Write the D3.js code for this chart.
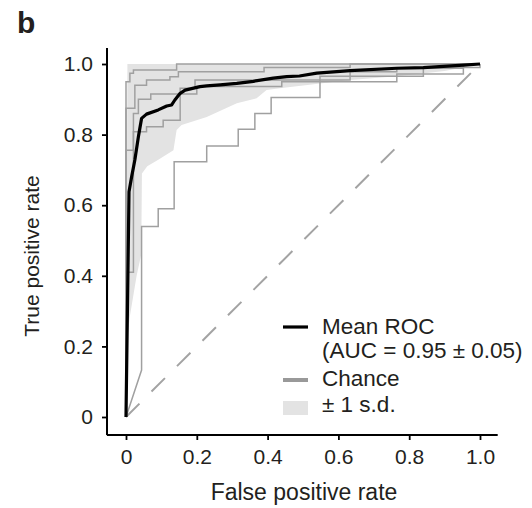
<!DOCTYPE html>
<html>
<head>
<meta charset="utf-8">
<script src="https://cdn.jsdelivr.net/npm/d3@7"></script>
<style>
  body { margin: 0; background: #fff; }
  text { font-family: "Liberation Sans", Arial, Helvetica, sans-serif; fill: #231f20; }
</style>
</head>
<body>
<script>
// mean ROC curve
const meanFpr = [0, 0.0085, 0.016, 0.025, 0.035, 0.044, 0.058, 0.091, 0.115, 0.129, 0.138, 0.153, 0.167, 0.209, 0.228, 0.266, 0.313, 0.36, 0.416, 0.454, 0.49, 0.539, 0.633, 0.765, 0.84, 0.953, 1.0];
const meanTpr = [0, 0.638, 0.681, 0.728, 0.794, 0.846, 0.858, 0.87, 0.881, 0.884, 0.898, 0.917, 0.926, 0.936, 0.938, 0.941, 0.945, 0.951, 0.96, 0.964, 0.966, 0.974, 0.981, 0.988, 0.99, 0.997, 1.0];

// +/- 1 s.d. band
const bandFpr   = [0, 0.004, 0.01, 0.02, 0.03, 0.043, 0.045, 0.06, 0.09, 0.134, 0.143, 0.157, 0.228, 0.313, 0.369, 0.397, 0.44, 0.633, 0.765, 0.9, 1];
const bandLower = [0, 0.22, 0.28, 0.34, 0.40, 0.46, 0.69, 0.71, 0.728, 0.756, 0.813, 0.827, 0.85, 0.889, 0.903, 0.926, 0.932, 0.955, 0.965, 0.98, 1];
const bandUpper = [0, 1, 1, 1, 1, 1, 1, 1, 1, 1, 1, 1, 1, 1, 1, 1, 1, 1, 1, 1, 1];

// individual folds, [fpr, tpr]
const fold1 = [[0,0],[0.044,0.133],[0.044,0.54],[0.091,0.54],[0.091,0.59],[0.136,0.59],[0.136,0.723],[0.228,0.723],[0.228,0.768],[0.317,0.768],[0.317,0.815],[0.364,0.815],[0.364,0.86],[0.41,0.86],[0.41,0.905],[0.548,0.905],[0.548,0.95],[0.765,0.95],[0.765,0.972],[0.953,0.972],[0.953,1],[1,1]];
const fold2 = [[0,0],[0,0.41],[0.021,0.41],[0.021,0.808],[0.058,0.808],[0.058,0.822],[0.105,0.822],[0.105,0.841],[0.153,0.841],[0.153,0.931],[0.195,0.931],[0.195,0.955],[0.633,0.955],[0.633,0.978],[0.765,0.978],[0.765,0.988],[0.953,0.988],[0.953,1],[1,1]];
const fold3 = [[0,0],[0,0.875],[0.025,0.875],[0.025,0.94],[0.058,0.94],[0.058,0.955],[0.124,0.955],[0.124,0.964],[0.148,0.964],[0.148,0.978],[0.39,0.978],[0.39,0.99],[0.633,0.99],[0.633,1],[1,1]];
const fold4 = [[0,0],[0,0.95],[0.011,0.95],[0.011,0.974],[0.021,0.974],[0.021,0.983],[0.143,0.983],[0.143,1],[1,1]];
const fold5 = [[0,0],[0,0.756],[0.021,0.756],[0.021,0.86],[0.035,0.86],[0.035,0.9],[0.07,0.9],[0.07,0.915],[0.2,0.915],[0.2,0.936],[0.44,0.936],[0.44,0.95],[0.548,0.95],[0.548,0.965],[0.84,0.965],[0.84,0.99],[1,0.99],[1,1]];
const folds = [fold1, fold2, fold3, fold4, fold5];

const chance = [[0,0],[1,1]];
const ticks = [0, 0.2, 0.4, 0.6, 0.8, 1.0];
const legendLabels = ["Mean ROC", "(AUC = 0.95 \u00b1 0.05)", "Chance", "\u00b1 1 s.d."];

const W = 532, H = 508;
const svg = d3.select("body").append("svg")
    .attr("width", W).attr("height", H);

const x = d3.scaleLinear().domain([0, 1]).range([126, 480]);
const y = d3.scaleLinear().domain([0, 1]).range([417, 64]);

// band
const area = d3.area()
    .x((d, i) => x(bandFpr[i]))
    .y0((d, i) => y(bandLower[i]))
    .y1((d, i) => y(bandUpper[i]));
svg.append("path")
    .datum(bandFpr)
    .attr("d", area)
    .attr("fill", "#e3e3e3");

const line = d3.line().x(d => x(d[0])).y(d => y(d[1]));

// chance
svg.append("path")
    .datum(chance)
    .attr("d", line)
    .attr("fill", "none")
    .attr("stroke", "#a3a3a3")
    .attr("stroke-width", 2)
    .attr("stroke-dasharray", "19,17");

// folds
svg.selectAll(".fold")
    .data(folds)
    .enter().append("path")
    .attr("class", "fold")
    .attr("d", line)
    .attr("fill", "none")
    .attr("stroke", "#a0a0a0")
    .attr("stroke-width", 1.5);

// mean
svg.append("path")
    .datum(meanFpr.map((f, i) => [f, meanTpr[i]]))
    .attr("d", line)
    .attr("fill", "none")
    .attr("stroke", "#000")
    .attr("stroke-width", 3.2)
    .attr("stroke-linejoin", "round");

// axes
const fmt = d => d === 0 ? "0" : d3.format(".1f")(d);

const gx = svg.append("g")
    .attr("transform", "translate(0,435)")
    .call(d3.axisBottom(x).tickValues(ticks).tickFormat(fmt).tickSize(5).tickPadding(9));
gx.select(".domain").remove();
gx.append("line")
    .attr("x1", x(-0.054)).attr("x2", x(1.05))
    .attr("stroke", "#000").attr("stroke-width", 2);

const gy = svg.append("g")
    .attr("transform", "translate(107,0)")
    .call(d3.axisLeft(y).tickValues(ticks).tickFormat(fmt).tickSize(5).tickPadding(9));
gy.select(".domain").remove();
gy.append("line")
    .attr("y1", y(1.045)).attr("y2", y(-0.051))
    .attr("stroke", "#000").attr("stroke-width", 2);

svg.selectAll(".tick line").attr("stroke", "#000").attr("stroke-width", 1.8);
svg.selectAll(".tick text")
    .style("font-family", "'Liberation Sans', Arial, sans-serif")
    .style("font-size", "21px")
    .attr("fill", "#231f20");

// axis titles
svg.append("text")
    .attr("x", 304).attr("y", 500)
    .attr("text-anchor", "middle")
    .style("font-size", "23px")
    .text("False positive rate");

svg.append("text")
    .attr("transform", "translate(39,256) rotate(-90)")
    .attr("text-anchor", "middle")
    .style("font-size", "21px")
    .text("True positive rate");

// panel letter
svg.append("text")
    .attr("x", 17).attr("y", 33)
    .style("font-size", "30px")
    .style("font-weight", "bold")
    .attr("fill", "#000")
    .text("b");

// legend
const lg = svg.append("g");
lg.append("line")
    .attr("x1", 283).attr("x2", 308).attr("y1", 327).attr("y2", 327)
    .attr("stroke", "#000").attr("stroke-width", 3.2);
lg.append("line")
    .attr("x1", 283).attr("x2", 308).attr("y1", 380).attr("y2", 380)
    .attr("stroke", "#999").attr("stroke-width", 4);
lg.append("rect")
    .attr("x", 283).attr("y", 401).attr("width", 25).attr("height", 14)
    .attr("fill", "#e3e3e3");

const legendY = [334, 358, 386, 412];
lg.selectAll("text")
    .data(legendLabels)
    .enter().append("text")
    .attr("x", 322)
    .attr("y", (d, i) => legendY[i])
    .style("font-size", "22.5px")
    .text(d => d);
</script>
</body>
</html>
